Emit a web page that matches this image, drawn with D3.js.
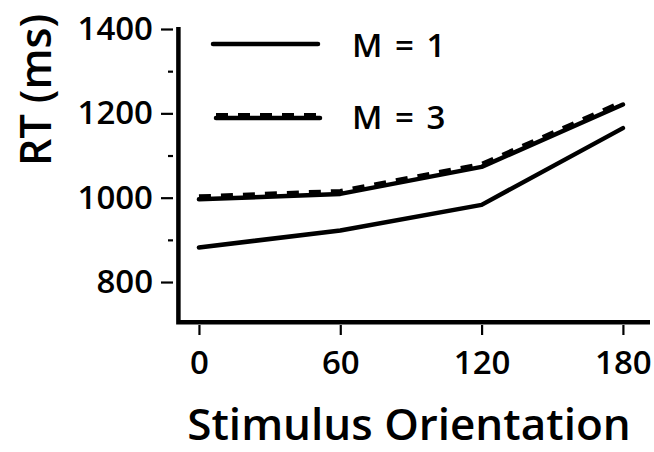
<!DOCTYPE html>
<html><head><meta charset="utf-8">
<script src="https://cdn.jsdelivr.net/npm/d3@7"></script>
<style>
html,body{margin:0;padding:0;background:#fff;}
text{font-family:"Open Sans",sans-serif;font-weight:600;fill:#000;}
</style></head>
<body>
<svg id="chart" width="654" height="452"></svg>
<script>
const orientations = [0, 60, 120, 180];
const rtM1 = [882, 922, 983, 1165];
const rtM3 = [996, 1009, 1073, 1221];
const seriesNames = ["M = 1", "M = 3"];
const yMajorTicks = [800, 1000, 1200, 1400];
const yMinorTicks = [900, 1100, 1300];
const xTicks = [0, 60, 120, 180];

const svg = d3.select("#chart");
const x = d3.scaleLinear().domain([-10, 191.5]).range([175.4, 650]);
const y = d3.scaleLinear().domain([700, 1400]).range([324.2, 29]);

// axis lines
svg.append("path").attr("d", `M${x(-10)+3},${y(1400)-2} L${x(-10)+3},${y(700)-2} L${x(191.5)},${y(700)-2}`)
  .attr("fill","none").attr("stroke","#000").attr("stroke-width",4.5);

// y ticks
const yAxis = d3.axisLeft(y).tickValues(yMajorTicks).tickSize(12).tickPadding(8).tickFormat(d3.format("d"));
const gy = svg.append("g").attr("transform","translate(173,0)").call(yAxis);
gy.select(".domain").remove();
gy.selectAll(".tick line").attr("stroke","#000").attr("stroke-width",2.2);
gy.selectAll(".tick text").attr("font-size",33).attr("font-family","Open Sans").attr("font-weight",600).attr("fill","#000");
const gym = svg.append("g").attr("transform","translate(173,0)").call(d3.axisLeft(y).tickValues(yMinorTicks).tickSize(5).tickFormat(""));
gym.select(".domain").remove();
gym.selectAll(".tick line").attr("stroke","#000").attr("stroke-width",2.2);

// x ticks
const gx = svg.append("g").attr("transform","translate(0,325)").call(d3.axisBottom(x).tickValues(xTicks).tickSize(10).tickPadding(16).tickFormat(d3.format("d")));
gx.select(".domain").remove();
gx.selectAll(".tick line").attr("stroke","#000").attr("stroke-width",2.2);
gx.selectAll(".tick text").attr("font-size",33).attr("font-family","Open Sans").attr("font-weight",600).attr("fill","#000");

// lines
const line = d3.line().x((d,i)=>x(orientations[i])).y(d=>y(d));
svg.append("path").datum(rtM1).attr("d",line).attr("fill","none").attr("stroke","#000").attr("stroke-width",4.5).attr("stroke-linecap","round").attr("stroke-linejoin","round");
svg.append("path").datum(rtM3).attr("d",line).attr("fill","none").attr("stroke","#000").attr("stroke-width",4).attr("stroke-dasharray","12,10").attr("transform","translate(0,-3)");
svg.append("path").datum(rtM3).attr("d",line).attr("fill","none").attr("stroke","#000").attr("stroke-width",4.5).attr("stroke-linecap","round").attr("stroke-linejoin","round");

// legend
const lg = svg.append("g");
lg.append("line").attr("x1",213).attr("x2",318).attr("y1",44).attr("y2",44).attr("stroke","#000").attr("stroke-width",4.5).attr("stroke-linecap","round");
lg.append("text").attr("x",352).attr("y",57).attr("font-size",33).attr("word-spacing",4).text(seriesNames[0]);
lg.append("line").attr("x1",216).attr("x2",320).attr("y1",115).attr("y2",115).attr("stroke","#000").attr("stroke-width",4).attr("stroke-dasharray","12,10");
lg.append("line").attr("x1",216).attr("x2",320).attr("y1",118).attr("y2",118).attr("stroke","#000").attr("stroke-width",4.5).attr("stroke-linecap","round");
lg.append("text").attr("x",352).attr("y",129).attr("font-size",33).attr("word-spacing",4).text(seriesNames[1]);

// titles
svg.append("text").attr("x",409).attr("y",440).attr("text-anchor","middle").attr("font-size",44).text("Stimulus Orientation");
svg.append("text").attr("transform","translate(51,90) rotate(-90)").attr("text-anchor","middle").attr("font-size",43).text("RT (ms)");
</script>
</body></html>
